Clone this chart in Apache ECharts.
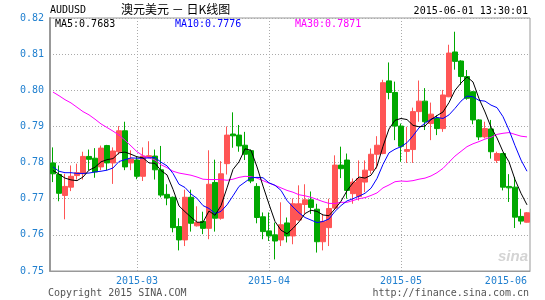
<!DOCTYPE html>
<html>
<head>
<meta charset="utf-8">
<script src="https://cdn.jsdelivr.net/npm/echarts@6/dist/echarts.min.js"></script>
<style>
html,body{margin:0;padding:0;background:#fff;}
#main{width:545px;height:300px;}
</style>
</head>
<body>
<div id="main"></div>
<script>
const dates = [
'2015-02-10','2015-02-11','2015-02-12','2015-02-13','2015-02-16','2015-02-17','2015-02-18','2015-02-19','2015-02-20',
'2015-02-23','2015-02-24','2015-02-25','2015-02-26','2015-02-27',
'2015-03-02','2015-03-03','2015-03-04','2015-03-05','2015-03-06','2015-03-09','2015-03-10','2015-03-11','2015-03-12',
'2015-03-13','2015-03-16','2015-03-17','2015-03-18','2015-03-19','2015-03-20','2015-03-23','2015-03-24','2015-03-25',
'2015-03-26','2015-03-27','2015-03-30','2015-03-31',
'2015-04-01','2015-04-02','2015-04-03','2015-04-06','2015-04-07','2015-04-08','2015-04-09','2015-04-10','2015-04-13',
'2015-04-14','2015-04-15','2015-04-16','2015-04-17','2015-04-20','2015-04-21','2015-04-22','2015-04-23','2015-04-24',
'2015-04-27','2015-04-28','2015-04-29','2015-04-30',
'2015-05-01','2015-05-04','2015-05-05','2015-05-06','2015-05-07','2015-05-08','2015-05-11','2015-05-12','2015-05-13',
'2015-05-14','2015-05-15','2015-05-18','2015-05-19','2015-05-20','2015-05-21','2015-05-22','2015-05-25','2015-05-26',
'2015-05-27','2015-05-28','2015-05-29',
'2015-06-01'
];
const opens = [
.7799,.7767,.7709,.7732,.7764,.7769,.7817,.7812,.7788,.7847,
.7799,.7830,.7888,.7799,.7807,.7762,.7815,.7818,.7780,.7712,
.7704,.7623,.7586,.7704,.7625,.7637,.7618,.7745,.7646,.7797,
.7879,.7876,.7848,.7833,.7734,.7650,.7611,.7600,.7586,.7633,
.7597,.7641,.7684,.7697,.7671,.7581,.7620,.7674,.7793,.7807,
.7714,.7706,.7746,.7779,.7823,.7825,.8026,.7994,.7901,.7831,
.7836,.7941,.7970,.7908,.7922,.7894,.7982,.8106,.8081,.8038,
.7996,.7918,.7871,.7893,.7806,.7825,.7734,.7732,.7651,.7635
];
const closes = [
.7769,.7715,.7734,.7762,.7772,.7817,.7809,.7774,.7840,.7799,
.7832,.7888,.7788,.7810,.7762,.7818,.7819,.7780,.7710,.7702,
.7620,.7586,.7704,.7632,.7634,.7618,.7740,.7646,.7769,.7876,
.7874,.7846,.7823,.7749,.7648,.7609,.7597,.7583,.7628,.7597,
.7686,.7686,.7697,.7676,.7581,.7637,.7673,.7793,.7783,.7723,
.7746,.7756,.7779,.7823,.7848,.8021,.7994,.7901,.7845,.7836,
.7941,.7970,.7913,.7934,.7894,.7987,.8103,.8080,.8038,.7978,
.7918,.7871,.7894,.7830,.7825,.7732,.7730,.7649,.7638,.7661
];
const lows = [
.7746,.7693,.7643,.7721,.7753,.7753,.7779,.7758,.7779,.7779,
.7741,.7822,.7779,.7779,.7754,.7749,.7812,.7753,.7704,.7682,
.7607,.7557,.7569,.7609,.7623,.7602,.7588,.7609,.7642,.7767,
.7841,.7830,.7807,.7743,.7632,.7588,.7583,.7532,.7569,.7579,
.7574,.7639,.7658,.7658,.7551,.7557,.7569,.7671,.7757,.7700,
.7686,.7695,.7718,.7769,.7783,.7823,.7975,.7862,.7802,.7799,
.7799,.7913,.7890,.7862,.7876,.7885,.7981,.8057,.8015,.7974,
.7906,.7862,.7867,.7811,.7799,.7723,.7691,.7619,.7629,.7634
];
const highs = [
.7842,.7792,.7769,.7792,.7797,.7830,.7836,.7840,.7847,.7849,
.7842,.7901,.7913,.7834,.7816,.7842,.7859,.7836,.7846,.7740,
.7706,.7646,.7725,.7725,.7679,.7664,.7834,.7808,.7804,.7900,
.7939,.7904,.7885,.7836,.7743,.7662,.7662,.7634,.7690,.7648,
.7701,.7737,.7740,.7720,.7686,.7658,.7700,.7820,.7844,.7825,
.7756,.7806,.7806,.7839,.7873,.8029,.8077,.8024,.7908,.7899,
.7952,.8027,.8006,.7966,.7931,.8001,.8126,.8162,.8083,.8056,
.7998,.7920,.7913,.7918,.7830,.7827,.7768,.7760,.7672,.7663
];
const ma5 = [
.7778,.7768,.7757,.7752,.7750,.7760,.7779,.7787,.7802,.7808,
.7811,.7827,.7829,.7823,.7816,.7813,.7799,.7798,.7778,.7766,
.7726,.7680,.7664,.7649,.7635,.7635,.7666,.7654,.7681,.7730,
.7781,.7802,.7838,.7834,.7788,.7735,.7685,.7637,.7613,.7603,
.7618,.7636,.7659,.7668,.7665,.7655,.7653,.7672,.7693,.7722,
.7744,.7760,.7757,.7765,.7790,.7845,.7893,.7917,.7922,.7919,
.7903,.7899,.7901,.7919,.7930,.7940,.7966,.8000,.8020,.8037,
.8023,.7977,.7940,.7898,.7868,.7830,.7802,.7753,.7715,.7683
];
const ma10 = [
.7788,.7776,.7772,.7772,.7770,.7770,.7771,.7774,.7776,.7779,
.7785,.7803,.7808,.7813,.7812,.7812,.7813,.7814,.7801,.7791,
.7770,.7740,.7731,.7713,.7701,.7681,.7673,.7659,.7665,.7683,
.7708,.7734,.7746,.7758,.7759,.7758,.7744,.7737,.7723,.7695,
.7677,.7661,.7648,.7641,.7634,.7637,.7644,.7665,.7681,.7694,
.7700,.7707,.7715,.7729,.7756,.7795,.7827,.7837,.7844,.7855,
.7874,.7896,.7909,.7920,.7925,.7922,.7932,.7950,.7970,.7984,
.7982,.7972,.7970,.7959,.7952,.7927,.7890,.7847,.7807,.7776
];
const ma30 = [
.7995,.7985,.7974,.7965,.7953,.7941,.7932,.7920,.7907,.7897,
.7887,.7876,.7862,.7846,.7830,.7819,.7813,.7807,.7794,.7786,
.7776,.7771,.7768,.7765,.7760,.7754,.7753,.7753,.7753,.7751,
.7754,.7759,.7762,.7761,.7757,.7750,.7743,.7737,.7730,.7723,
.7718,.7711,.7708,.7704,.7698,.7692,.7687,.7687,.7690,.7690,
.7695,.7700,.7703,.7709,.7716,.7730,.7738,.7747,.7749,.7748,
.7750,.7754,.7757,.7763,.7772,.7784,.7801,.7818,.7831,.7844,
.7852,.7858,.7865,.7870,.7878,.7881,.7883,.7878,.7873,.7871
];
const yTicks = [0.75, 0.76, 0.77, 0.78, 0.79, 0.80, 0.81, 0.82];
const monthStarts = ['2015-03-02', '2015-04-01', '2015-05-01', '2015-06-01'];
const symbolName = 'AUDUSD';
const titleText = '澳元美元 － 日K线图';
const stampText = '2015-06-01 13:30:01';

const candles = dates.map((d, i) => [opens[i], closes[i], lows[i], highs[i]]);
const labelIdx = monthStarts.map(d => dates.indexOf(d));
const lineIdx = labelIdx.slice(0, 3);
const last = dates.length - 1;

const mono = '"DejaVu Sans Mono", "Liberation Mono", monospace';
const blueLbl = '#1f7fcf';
const RED = '#ff5555', GREEN = '#00a800';

const chart = echarts.init(document.getElementById('main'), null, {renderer: 'canvas'});
chart.setOption({
  animation: false,
  backgroundColor: '#fff',
  grid: {left: 50, right: 15, top: 18, bottom: 29, show: true, borderColor: '#999', borderWidth: 1},
  xAxis: {
    type: 'category',
    data: dates,
    boundaryGap: true,
    axisLine: {show: true, lineStyle: {color: '#999', width: 1}},
    axisTick: {show: false},
    axisLabel: {
      interval: (i) => labelIdx.indexOf(i) >= 0,
      formatter: (v) => v.slice(0, 7),
      color: blueLbl, fontFamily: mono, fontSize: 10, margin: 5,
      alignMaxLabel: 'right'
    },
    splitLine: {
      show: true,
      alignWithLabel: true,
      interval: (i) => lineIdx.indexOf(i) >= 0,
      lineStyle: {color: '#aaa', type: [1, 2], width: 1}
    }
  },
  yAxis: {
    type: 'value',
    min: yTicks[0], max: yTicks[yTicks.length - 1], interval: 0.01,
    axisLine: {show: true, lineStyle: {color: '#999', width: 2}},
    axisTick: {show: false},
    axisLabel: {
      formatter: (v) => v.toFixed(2),
      color: blueLbl, fontFamily: mono, fontSize: 10, margin: 6, padding: [0, 0, 3, 0]
    },
    splitLine: {show: true, lineStyle: {color: '#aaa', type: [1, 2], width: 1}}
  },
  series: [
    {
      type: 'candlestick', data: candles, barWidth: 5,
      itemStyle: {color: RED, color0: GREEN, borderColor: RED, borderColor0: GREEN, borderWidth: 1}
    },
    {type: 'line', data: ma30, symbol: 'none', lineStyle: {color: '#ff00ff', width: 1}, z: 3},
    {type: 'line', data: ma10, symbol: 'none', lineStyle: {color: '#0000ff', width: 1}, z: 3},
    {type: 'line', data: ma5, symbol: 'none', lineStyle: {color: '#000000', width: 1}, z: 3}
  ],
  graphic: [
    {type: 'text', left: 50, top: 5, style: {text: symbolName, font: '10px ' + mono, fill: '#000'}},
    {type: 'text', left: 121, top: 3, style: {text: titleText, font: '12px "Noto Sans CJK SC"', fill: '#000'}},
    {type: 'text', right: 17, top: 6, style: {text: stampText, font: '10px ' + mono, fill: '#000'}},
    {type: 'text', left: 55, top: 19, style: {text: 'MA5:' + ma5[last].toFixed(4), font: '10px ' + mono, fill: '#000'}},
    {type: 'text', left: 175, top: 19, style: {text: 'MA10:' + ma10[last].toFixed(4), font: '10px ' + mono, fill: '#0000ff'}},
    {type: 'text', left: 295, top: 19, style: {text: 'MA30:' + ma30[last].toFixed(4), font: '10px ' + mono, fill: '#ff00ff'}},
    {type: 'text', left: 48, top: 288, style: {text: 'Copyright 2015 SINA.COM', font: '10px ' + mono, fill: '#555'}},
    {type: 'text', right: 16, top: 288, style: {text: 'http://finance.sina.com.cn', font: '10px ' + mono, fill: '#555'}},
    {type: 'text', right: 17, top: 249, z: 0, style: {text: 'sina', font: 'italic bold 15px Arial, "Liberation Sans"', fill: '#d4d4d4'}}
  ]
});
</script>
</body>
</html>
